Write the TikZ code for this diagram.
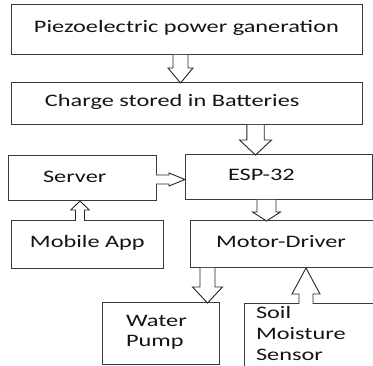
\documentclass[tikz,border=0pt]{standalone}
\usepackage{fontspec}
\setmainfont{Carlito}[FakeStretch=1.39]
\usetikzlibrary{calc}
\definecolor{linec}{HTML}{3A3A3A}
\definecolor{textc}{HTML}{141414}
\tikzset{
  box/.style={draw=linec, line width=1pt, inner sep=0pt, outer sep=0pt, fill=none},
  lbl/.style={anchor=base west, inner sep=0pt, outer sep=0pt, text=textc,
    font=\fontsize{17.5}{20.5}\selectfont},
  arr/.style={draw=black!85, line width=0.9pt, fill=white, line join=miter}
}
% #1 start, #2 tip, #3 shaft half width, #4 head half width, #5 head length
\newcommand{\arrdown}[5]{\draw[arr] ($(#1)+(-#3,0)$) -- ($(#2)+(-#3,-#5)$) -- ($(#2)+(-#4,-#5)$) -- (#2) -- ($(#2)+(#4,-#5)$) -- ($(#2)+(#3,-#5)$) -- ($(#1)+(#3,0)$);}
\newcommand{\arrup}[5]{\draw[arr] ($(#1)+(-#3,0)$) -- ($(#2)+(-#3,#5)$) -- ($(#2)+(-#4,#5)$) -- (#2) -- ($(#2)+(#4,#5)$) -- ($(#2)+(#3,#5)$) -- ($(#1)+(#3,0)$);}
\newcommand{\arrright}[5]{\draw[arr] ($(#1)+(0,-#3)$) -- ($(#2)+(-#5,-#3)$) -- ($(#2)+(-#5,-#4)$) -- (#2) -- ($(#2)+(-#5,#4)$) -- ($(#2)+(-#5,#3)$) -- ($(#1)+(0,#3)$);}
\begin{document}
\begin{tikzpicture}[x=1pt,y=-1pt]
\useasboundingbox (0,0) rectangle (373,366);
\clip (0,0) rectangle (373,366);
\fill[white] (0,0) rectangle (373,366);
% boxes
\node[box, minimum width=351, minimum height=50] (piezo) at (186.5,30) {};
\node[box, minimum width=351, minimum height=42] (charge) at (186.5,104) {};
\node[box, minimum width=148, minimum height=45] (server) at (82,178.5) {};
\node[box, minimum width=187, minimum height=45] (esp) at (278.5,177.5) {};
\node[box, minimum width=152, minimum height=48] (mobile) at (87,245) {};
\node[box, minimum width=190, minimum height=47] (motor) at (285,244.5) {};
\node[box, minimum width=117, minimum height=62] (water) at (160.5,334) {};
\node[box, minimum width=146, minimum height=86] (soil) at (317,347) {};
% labels
\node[lbl] (piezo-t) at (34,33) {Piezoelectric power ganeration};
\node[lbl] (charge-t) at (45,107) {Charge stored in Batteries};
\node[lbl] (server-t) at (43,183) {Server};
\node[lbl] (esp-t) at (228,181) {ESP-32};
\node[lbl] (mobile-t) at (30,248) {Mobile App};
\node[lbl] (motor-t) at (216,248) {Motor-Driver};
\node[lbl] (water-t1) at (126,327) {Water};
\node[lbl] (water-t2) at (126,347) {Pump};
\node[lbl] (soil-t1) at (256,319) {Soil};
\node[lbl] (soil-t2) at (256,340) {Moisture};
\node[lbl] (soil-t3) at (256,361) {Sensor};
% connector end points
\coordinate (a1s) at (180.5,0 |- piezo.south);
\coordinate (a1e) at (180.5,0 |- charge.north);
\coordinate (a2s) at (255.5,0 |- charge.south);
\coordinate (a2e) at (255.5,0 |- esp.north);
\coordinate (a3s) at (80,0 |- mobile.north);
\coordinate (a3e) at (80,0 |- server.south);
\coordinate (a4s) at (server.east |- 0,179.5);
\coordinate (a4e) at (esp.west |- 0,179.5);
\coordinate (a5s) at (266.5,0 |- esp.south);
\coordinate (a5e) at (266.5,0 |- motor.north);
\coordinate (a6s) at (207.5,0 |- motor.south);
\coordinate (a6e) at (207.5,0 |- water.north);
\coordinate (a7s) at (306,0 |- soil.north);
\coordinate (a7e) at (306,0 |- motor.south);
% block arrows
\arrdown{a1s}{a1e}{7.5}{12.5}{15}
\arrdown{a2s}{a2e}{8.7}{16}{15}
\arrup{a3s}{a3e}{4.5}{9.3}{9}
\arrright{a4s}{a4e}{4.5}{6.5}{16}
\arrdown{a5s}{a5e}{9.5}{14}{9}
\arrdown{a6s}{a6e}{7.5}{15}{16}
\arrup{a7s}{a7e}{7}{14}{26}
\end{tikzpicture}
\end{document}
